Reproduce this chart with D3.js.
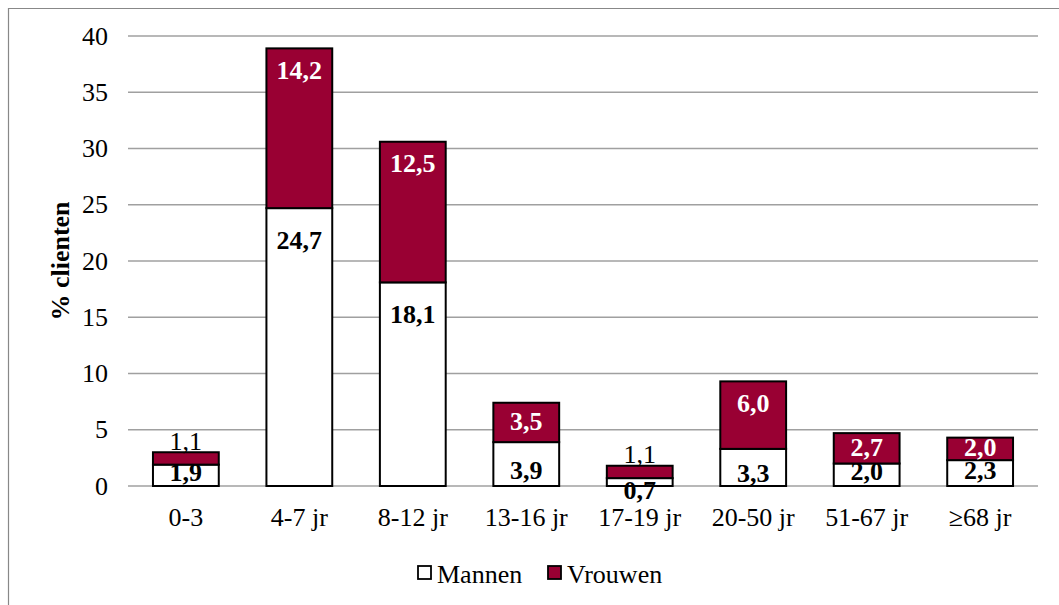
<!DOCTYPE html>
<html>
<head>
<meta charset="utf-8">
<script src="https://cdn.jsdelivr.net/npm/d3@7.9.0/dist/d3.min.js"></script>
<style>
  body { margin: 0; background: #fff; }
  svg { display: block; font-family: "Liberation Serif", "Times New Roman", serif; }
</style>
</head>
<body>
<svg id="chart" width="1059" height="605"></svg>
<script>
const categories = ['0-3', '4-7 jr', '8-12 jr', '13-16 jr', '17-19 jr', '20-50 jr', '51-67 jr', '\u226568 jr'];
const mannen = [1.9, 24.7, 18.1, 3.9, 0.7, 3.3, 2.0, 2.3];
const vrouwen = [1.1, 14.2, 12.5, 3.5, 1.1, 6.0, 2.7, 2.0];
const yTicks = [0, 5, 10, 15, 20, 25, 30, 35, 40];
const seriesNames = ['Mannen', 'Vrouwen'];

const svg = d3.select('#chart');
const fmt = (v) => v.toFixed(1).replace('.', ',');
const red = '#990033';
const fs = 26;

// outer frame
svg.append('path')
  .attr('d', 'M8.5,605 V8.5 H1059')
  .attr('fill', 'none')
  .attr('stroke', '#888')
  .attr('stroke-width', 1.2);

const plotLeft = 128, plotRight = 1038, plotTop = 36, plotBottom = 486;

const x = d3.scaleBand().domain(categories).range([plotLeft, plotRight]).paddingInner(0.42).paddingOuter(0.22);
const y = d3.scaleLinear().domain([0, 40]).range([plotBottom, plotTop]);

// gridlines
svg.append('g').selectAll('line')
  .data(yTicks)
  .join('line')
  .attr('x1', plotLeft).attr('x2', plotRight)
  .attr('y1', (d) => y(d)).attr('y2', (d) => y(d))
  .attr('stroke', '#a0a0a0')
  .attr('stroke-width', 1.5);

// y tick labels
svg.append('g').selectAll('text')
  .data(yTicks)
  .join('text')
  .attr('x', 108)
  .attr('y', (d) => y(d))
  .attr('dy', '0.33em')
  .attr('text-anchor', 'end')
  .attr('font-size', fs)
  .text((d) => d);

// y title
svg.append('text')
  .attr('transform', `translate(60,${(plotTop + plotBottom) / 2}) rotate(-90)`)
  .attr('text-anchor', 'middle')
  .attr('dy', '0.33em')
  .attr('font-size', fs)
  .attr('font-weight', 'bold')
  .text('% clienten');

// bars
const g = svg.append('g');
categories.forEach((c, i) => {
  const m = mannen[i], v = vrouwen[i];
  g.append('rect')
    .attr('x', x(c)).attr('width', x.bandwidth())
    .attr('y', y(m)).attr('height', y(0) - y(m))
    .attr('fill', '#fff').attr('stroke', '#000').attr('stroke-width', 2);
  g.append('rect')
    .attr('x', x(c)).attr('width', x.bandwidth())
    .attr('y', y(m + v)).attr('height', y(m) - y(m + v))
    .attr('fill', red).attr('stroke', '#000').attr('stroke-width', 2);
});

// labels
categories.forEach((c, i) => {
  const m = mannen[i], v = vrouwen[i];
  const cx = x(c) + x.bandwidth() / 2;
  const mh = y(0) - y(m);
  let my;
  if (mh > 30) my = y(m) + Math.min(32, mh / 2 + 6);
  else if (mh > 15) my = y(m) + mh / 2 - 3;
  else my = y(0) + 4;
  g.append('text')
    .attr('x', cx).attr('y', my).attr('dy', '0.33em')
    .attr('text-anchor', 'middle')
    .attr('font-size', fs).attr('font-weight', 'bold')
    .attr('fill', '#000')
    .text(fmt(m));
  const vh = y(m) - y(m + v);
  if (vh > 21) {
    g.append('text')
      .attr('x', cx).attr('y', y(m + v) + Math.min(22, vh / 2 - 1)).attr('dy', '0.33em')
      .attr('text-anchor', 'middle')
      .attr('font-size', fs).attr('font-weight', 'bold')
      .attr('fill', '#fff')
      .text(fmt(v));
  } else {
    g.append('text')
      .attr('x', cx).attr('y', y(m + v) - 11).attr('dy', '0.33em')
      .attr('text-anchor', 'middle')
      .attr('font-size', fs)
      .attr('fill', '#000')
      .text(fmt(v));
  }
});

// x labels
svg.append('g').selectAll('text')
  .data(categories)
  .join('text')
  .attr('x', (d) => x(d) + x.bandwidth() / 2)
  .attr('y', 517)
  .attr('dy', '0.33em')
  .attr('text-anchor', 'middle')
  .attr('font-size', fs)
  .text((d) => d);

// legend
const legendX = [418, 548];
const legend = svg.append('g');
seriesNames.forEach((s, i) => {
  legend.append('rect')
    .attr('x', legendX[i]).attr('y', 566)
    .attr('width', 13).attr('height', 13)
    .attr('fill', i === 0 ? '#fff' : red)
    .attr('stroke', '#000').attr('stroke-width', 1.8);
  legend.append('text')
    .attr('x', legendX[i] + 19).attr('y', 574)
    .attr('dy', '0.33em')
    .attr('font-size', fs)
    .text(s);
});
</script>
</body>
</html>
